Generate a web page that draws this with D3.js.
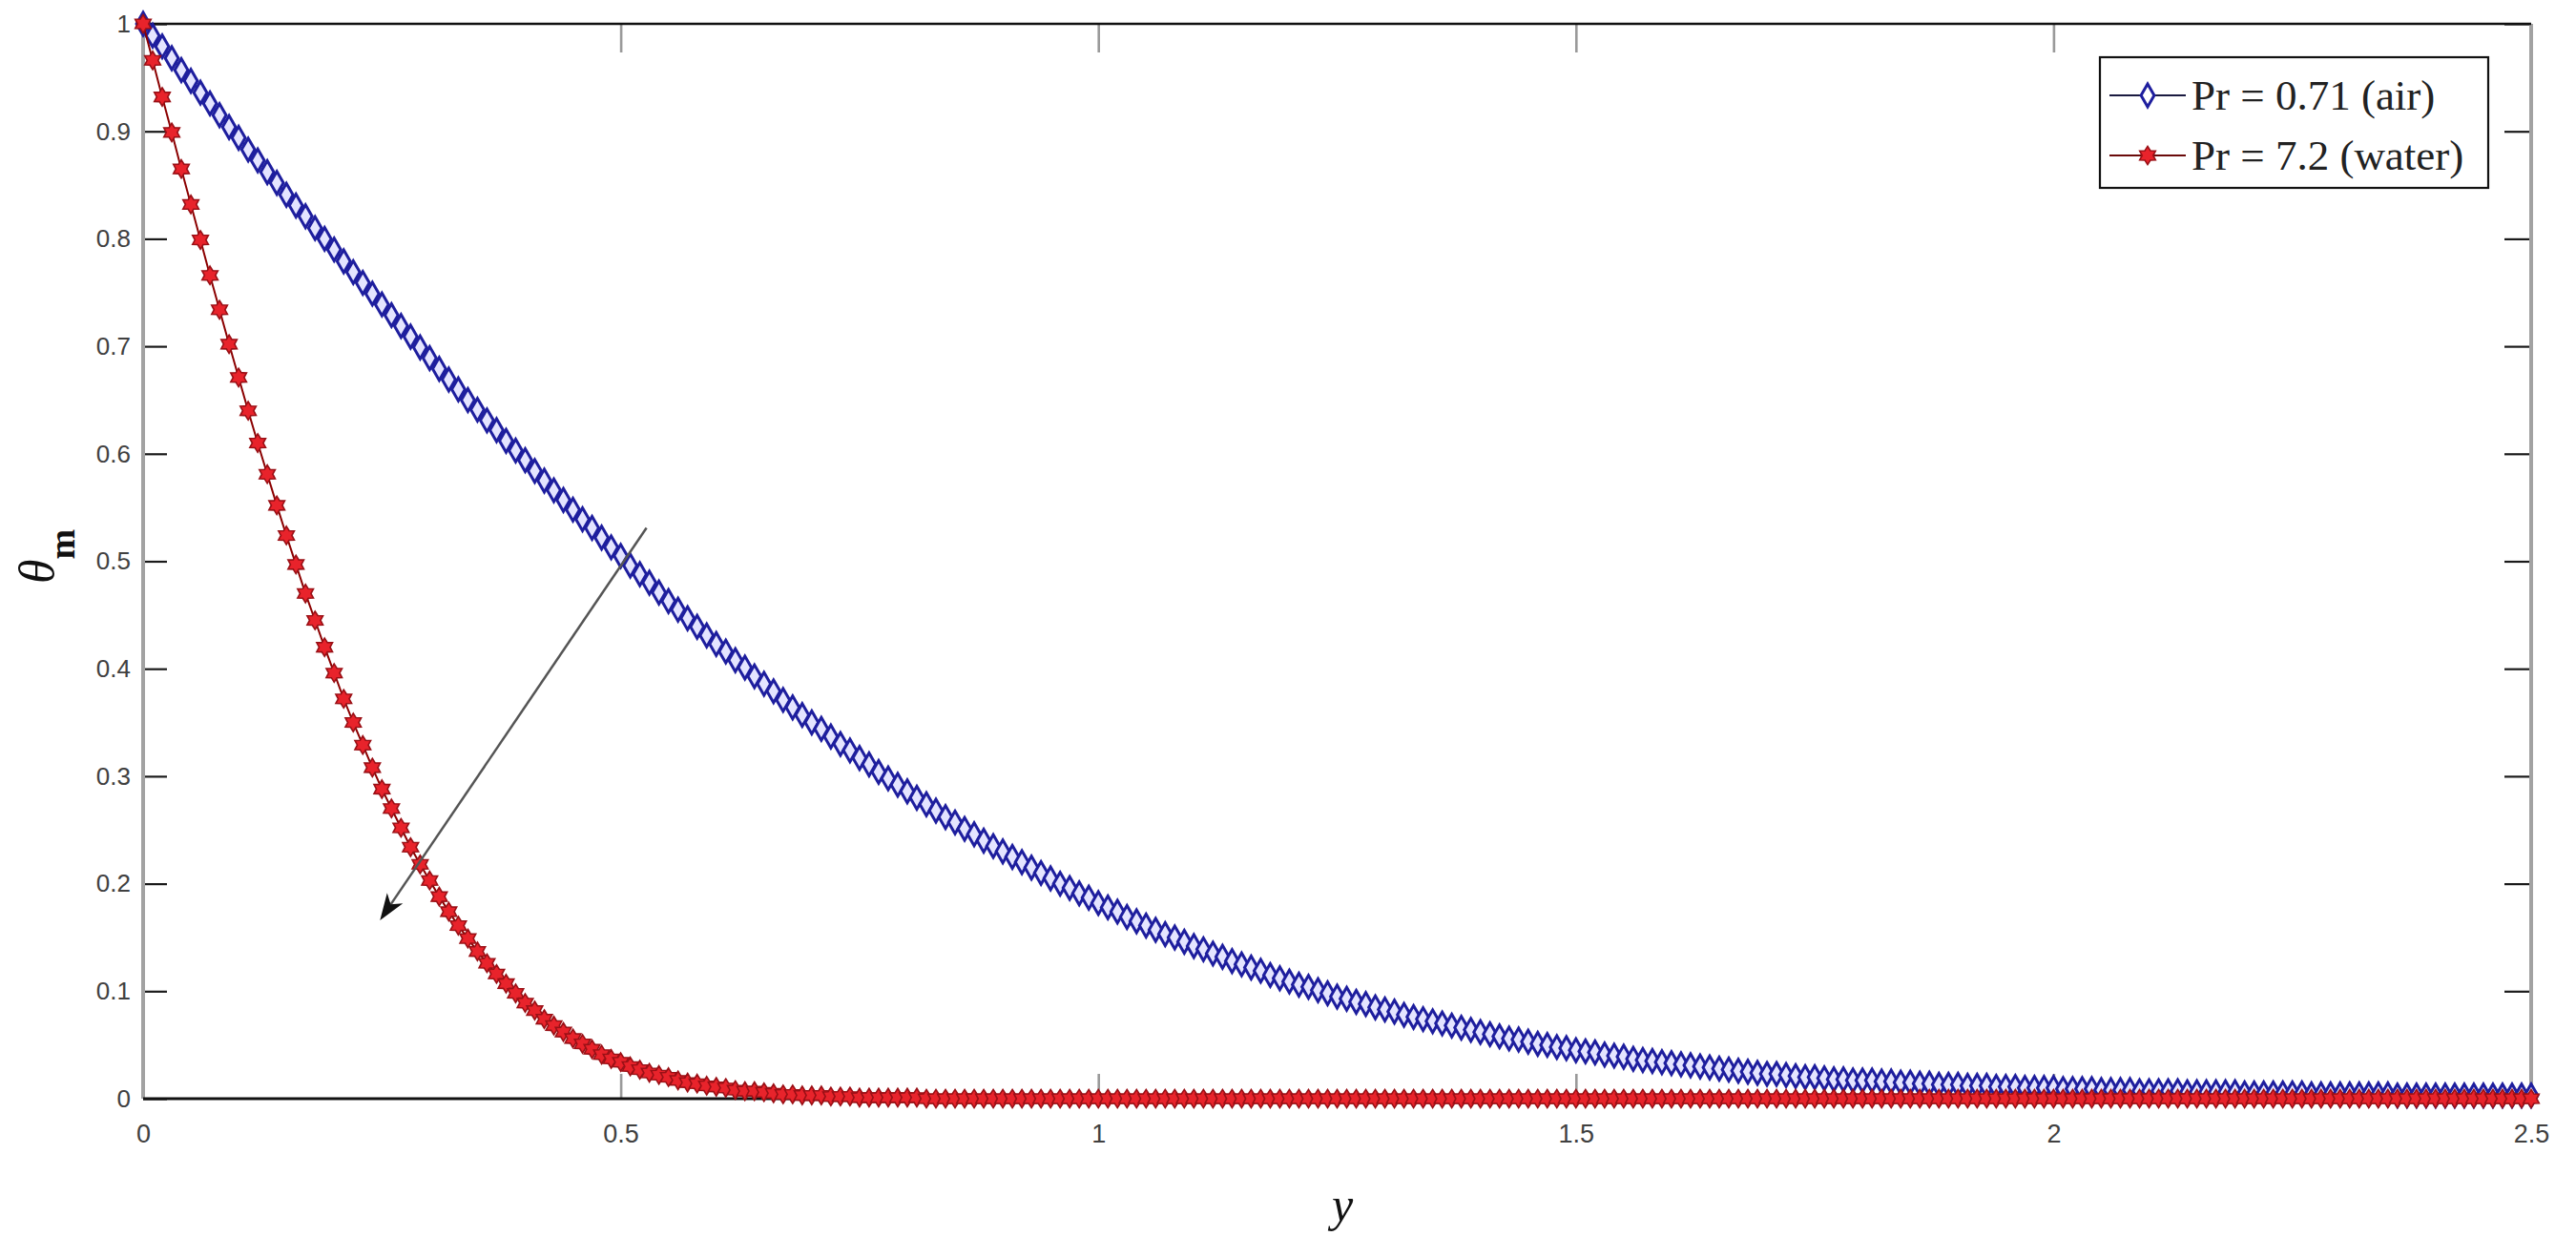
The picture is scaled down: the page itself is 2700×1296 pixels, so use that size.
<!DOCTYPE html>
<html>
<head>
<meta charset="utf-8">
<script src="https://cdn.jsdelivr.net/npm/d3@7/dist/d3.min.js"></script>
<style>
  html, body { margin: 0; padding: 0; background: #fff; }
  svg { display: block; }
  .tick text { font-family: "Liberation Sans", Arial, sans-serif; fill: #404040; }
</style>
</head>
<body>
<svg id="chart" width="2700" height="1296"></svg>
<script>
// similarity variable y, sampled every 0.01 from 0 to 2.5
var yGrid = d3.range(0, 251).map(function(i) { return i / 100; });

var xTicks = [0, 0.5, 1, 1.5, 2, 2.5];
var yTicks = [0, 0.1, 0.2, 0.3, 0.4, 0.5, 0.6, 0.7, 0.8, 0.9, 1];

var seriesNames = ['Pr = 0.71 (air)', 'Pr = 7.2 (water)'];

// theta_m for Pr = 0.71
var thetaAir = [
  1.000,0.989,0.979,0.968,0.957,0.947,0.936,0.926,0.915,0.904,
  0.894,0.883,0.873,0.862,0.852,0.841,0.831,0.821,0.810,0.800,
  0.790,0.779,0.769,0.759,0.749,0.739,0.729,0.719,0.709,0.699,
  0.689,0.679,0.669,0.660,0.650,0.641,0.631,0.622,0.612,0.603,
  0.594,0.584,0.575,0.566,0.557,0.548,0.539,0.531,0.522,0.513,
  0.505,0.496,0.488,0.480,0.471,0.463,0.455,0.447,0.439,0.431,
  0.423,0.416,0.408,0.401,0.393,0.386,0.379,0.371,0.364,0.357,
  0.350,0.344,0.337,0.330,0.324,0.317,0.311,0.304,0.298,0.292,
  0.286,0.280,0.274,0.268,0.262,0.257,0.251,0.246,0.240,0.235,
  0.230,0.225,0.220,0.215,0.210,0.205,0.200,0.196,0.191,0.187,
  0.182,0.178,0.174,0.169,0.165,0.161,0.157,0.153,0.150,0.146,
  0.142,0.139,0.135,0.132,0.128,0.125,0.122,0.119,0.115,0.112,
  0.109,0.106,0.104,0.101,0.098,0.095,0.093,0.090,0.088,0.085,
  0.083,0.081,0.078,0.076,0.074,0.072,0.070,0.068,0.066,0.064,
  0.062,0.060,0.058,0.056,0.055,0.053,0.051,0.050,0.048,0.047,
  0.045,0.044,0.043,0.041,0.040,0.039,0.037,0.036,0.035,0.034,
  0.033,0.032,0.031,0.030,0.029,0.028,0.027,0.026,0.025,0.024,
  0.023,0.023,0.022,0.021,0.020,0.020,0.019,0.018,0.018,0.017,
  0.017,0.017,0.016,0.016,0.015,0.015,0.014,0.014,0.013,0.013,
  0.013,0.012,0.012,0.012,0.011,0.011,0.011,0.010,0.010,0.010,
  0.010,0.009,0.009,0.009,0.009,0.008,0.008,0.008,0.008,0.007,
  0.007,0.007,0.007,0.007,0.006,0.006,0.006,0.006,0.006,0.006,
  0.005,0.005,0.005,0.005,0.005,0.005,0.005,0.004,0.004,0.004,
  0.004,0.004,0.004,0.004,0.004,0.004,0.003,0.003,0.003,0.003,
  0.003,0.003,0.003,0.003,0.003,0.003,0.003,0.003,0.003,0.003,
  0.003
];

// theta_m for Pr = 7.2
var thetaWater = [
  1.000,0.966,0.932,0.899,0.865,0.832,0.799,0.766,0.734,0.702,
  0.671,0.640,0.610,0.581,0.552,0.524,0.497,0.470,0.445,0.420,
  0.396,0.372,0.350,0.329,0.308,0.288,0.270,0.252,0.234,0.218,
  0.203,0.188,0.174,0.161,0.149,0.137,0.126,0.116,0.107,0.098,
  0.089,0.082,0.074,0.068,0.062,0.056,0.051,0.046,0.041,0.037,
  0.034,0.030,0.027,0.024,0.022,0.020,0.017,0.015,0.014,0.012,
  0.011,0.010,0.008,0.007,0.007,0.006,0.005,0.004,0.004,0.003,
  0.003,0.003,0.002,0.002,0.002,0.001,0.001,0.001,0.001,0.001,
  0.001,0.001,0,0,0,0,0,0,0,0,
  0,0,0,0,0,0,0,0,0,0,
  0,0,0,0,0,0,0,0,0,0,
  0,0,0,0,0,0,0,0,0,0,
  0,0,0,0,0,0,0,0,0,0,
  0,0,0,0,0,0,0,0,0,0,
  0,0,0,0,0,0,0,0,0,0,
  0,0,0,0,0,0,0,0,0,0,
  0,0,0,0,0,0,0,0,0,0,
  0,0,0,0,0,0,0,0,0,0,
  0,0,0,0,0,0,0,0,0,0,
  0,0,0,0,0,0,0,0,0,0,
  0,0,0,0,0,0,0,0,0,0,
  0,0,0,0,0,0,0,0,0,0,
  0,0,0,0,0,0,0,0,0,0,
  0,0,0,0,0,0,0,0,0,0,
  0,0,0,0,0,0,0,0,0,0,
  0
];

// annotation arrow, in data units (tail, head)
var arrowFrom = [0.527, 0.531];
var arrowTo = [0.248, 0.166];

var margin = {top: 25, right: 47, bottom: 144, left: 150};
var W = 2700, H = 1296;

var svg = d3.select('#chart');
svg.append('rect').attr('width', W).attr('height', H).attr('fill', '#fff');

var x = d3.scaleLinear().domain([0, 2.5]).range([margin.left, W - margin.right]);
var y = d3.scaleLinear().domain([0, 1]).range([H - margin.bottom, margin.top]);

var x0 = x.range()[0], x1 = x.range()[1], y0 = y.range()[0], y1 = y.range()[1];

// axes: labels on left/bottom, inward ticks on all four sides
var fmt = function(d) { return String(d); };

var gLeft = svg.append('g').attr('transform', 'translate(' + x0 + ',0)')
  .call(d3.axisLeft(y).tickValues(yTicks).tickSizeInner(-25).tickSizeOuter(0).tickPadding(13).tickFormat(fmt));
var gRight = svg.append('g').attr('transform', 'translate(' + x1 + ',0)')
  .call(d3.axisRight(y).tickValues(yTicks).tickSizeInner(-28).tickSizeOuter(0).tickFormat(''));
var gBottom = svg.append('g').attr('transform', 'translate(0,' + y0 + ')')
  .call(d3.axisBottom(x).tickValues(xTicks).tickSizeInner(-26).tickSizeOuter(0).tickPadding(27).tickFormat(fmt));
var gTop = svg.append('g').attr('transform', 'translate(0,' + y1 + ')')
  .call(d3.axisTop(x).tickValues(xTicks).tickSizeInner(-30).tickSizeOuter(0).tickFormat(''));

[gLeft, gRight, gBottom, gTop].forEach(function(g) { g.select('.domain').remove(); });
[gLeft, gRight].forEach(function(g) {
  g.selectAll('.tick line').attr('stroke', '#1a1a1a').attr('stroke-width', 2.2);
});
[gBottom, gTop].forEach(function(g) {
  g.selectAll('.tick line').attr('stroke', '#9a9a9a').attr('stroke-width', 2.6);
});
gLeft.selectAll('.tick text').attr('font-size', 26);
gBottom.selectAll('.tick text').attr('font-size', 27);

// frame: grey on left/right, black on top/bottom
var frame = svg.append('g');
frame.append('line').attr('x1', x0).attr('x2', x0).attr('y1', y1).attr('y2', y0)
  .attr('stroke', '#a2a2a2').attr('stroke-width', 4);
frame.append('line').attr('x1', x1).attr('x2', x1).attr('y1', y1).attr('y2', y0)
  .attr('stroke', '#a2a2a2').attr('stroke-width', 4);
frame.append('line').attr('x1', x0).attr('x2', x1).attr('y1', y1).attr('y2', y1)
  .attr('stroke', '#111').attr('stroke-width', 2.6);
frame.append('line').attr('x1', x0).attr('x2', x1).attr('y1', y0).attr('y2', y0)
  .attr('stroke', '#111').attr('stroke-width', 3);

// six-pointed star, size = outer radius squared
var symbolHexagram = {
  draw: function(context, size) {
    var r = Math.sqrt(size), ri = r * 0.6;
    for (var i = 0; i < 12; i++) {
      var a = -Math.PI / 2 + i * Math.PI / 6;
      var rr = i % 2 ? ri : r;
      if (i === 0) context.moveTo(rr * Math.cos(a), rr * Math.sin(a));
      else context.lineTo(rr * Math.cos(a), rr * Math.sin(a));
    }
    context.closePath();
  }
};

var series = [
  {name: seriesNames[0], values: thetaAir, line: '#1c1c8c', fill: '#e4e4ff', stroke: '#1e1e9e',
   sym: d3.symbol(d3.symbolDiamond, 165), sw: 3},
  {name: seriesNames[1], values: thetaWater, line: '#8b0000', fill: '#e8232b', stroke: '#9a1016',
   sym: d3.symbol(symbolHexagram, 92), sw: 1.6}
];

var line = d3.line()
  .x(function(d, i) { return x(yGrid[i]); })
  .y(function(d) { return y(d); });

series.forEach(function(s) {
  var g = svg.append('g');
  g.append('path').datum(s.values).attr('d', line)
    .attr('fill', 'none').attr('stroke', s.line).attr('stroke-width', 2);
  g.selectAll('path.mk').data(s.values).enter().append('path')
    .attr('class', 'mk')
    .attr('d', s.sym)
    .attr('transform', function(d, i) { return 'translate(' + x(yGrid[i]) + ',' + y(d) + ')'; })
    .attr('fill', s.fill).attr('stroke', s.stroke).attr('stroke-width', s.sw);
});

// arrow across the two curves
var ax0 = x(arrowFrom[0]), ay0 = y(arrowFrom[1]);
var ax1 = x(arrowTo[0]), ay1 = y(arrowTo[1]);
var len = Math.hypot(ax1 - ax0, ay1 - ay0);
var ux = (ax1 - ax0) / len, uy = (ay1 - ay0) / len, nx = -uy, ny = ux;
var headL = 28, headW = 20, notch = 8;
svg.append('line')
  .attr('x1', ax0).attr('y1', ay0)
  .attr('x2', ax1 - (headL - notch) * ux).attr('y2', ay1 - (headL - notch) * uy)
  .attr('stroke', '#555').attr('stroke-width', 2.5);
svg.append('path')
  .attr('d', 'M' + ax1 + ',' + ay1 +
    'L' + (ax1 - headL * ux + headW / 2 * nx) + ',' + (ay1 - headL * uy + headW / 2 * ny) +
    'L' + (ax1 - (headL - notch) * ux) + ',' + (ay1 - (headL - notch) * uy) +
    'L' + (ax1 - headL * ux - headW / 2 * nx) + ',' + (ay1 - headL * uy - headW / 2 * ny) + 'Z')
  .attr('fill', '#111');

// legend
var lg = svg.append('g').attr('transform', 'translate(2201,60)');
lg.append('rect').attr('width', 407).attr('height', 137)
  .attr('fill', '#fff').attr('stroke', '#111').attr('stroke-width', 2.2);
series.forEach(function(s, i) {
  var cy = 40 + i * 63;
  lg.append('line').attr('x1', 10).attr('x2', 90).attr('y1', cy).attr('y2', cy)
    .attr('stroke', i === 0 ? '#1a1a40' : '#6a0a0a').attr('stroke-width', 2.2);
  lg.append('path').attr('d', s.sym).attr('transform', 'translate(50,' + cy + ')')
    .attr('fill', i === 0 ? '#fff' : s.fill).attr('stroke', s.stroke).attr('stroke-width', s.sw);
  lg.append('text').attr('x', 96).attr('y', cy + 15)
    .attr('font-family', '"Liberation Serif", "Times New Roman", serif')
    .attr('font-size', 45).attr('fill', '#222')
    .text(s.name);
});

// axis titles
svg.append('text')
  .attr('x', 1407).attr('y', 1280)
  .attr('text-anchor', 'middle')
  .attr('font-family', '"Liberation Serif", "Times New Roman", serif')
  .attr('font-style', 'italic').attr('font-size', 50).attr('fill', '#111')
  .text('y');

var yt = svg.append('text')
  .attr('transform', 'translate(56,612) rotate(-90)')
  .attr('font-family', '"Liberation Serif", "Times New Roman", serif')
  .attr('fill', '#111');
yt.append('tspan').attr('font-style', 'italic').attr('font-size', 52).text('θ');
yt.append('tspan').attr('font-weight', 'bold').attr('font-size', 38).attr('dy', 22).text('m');
</script>
</body>
</html>
